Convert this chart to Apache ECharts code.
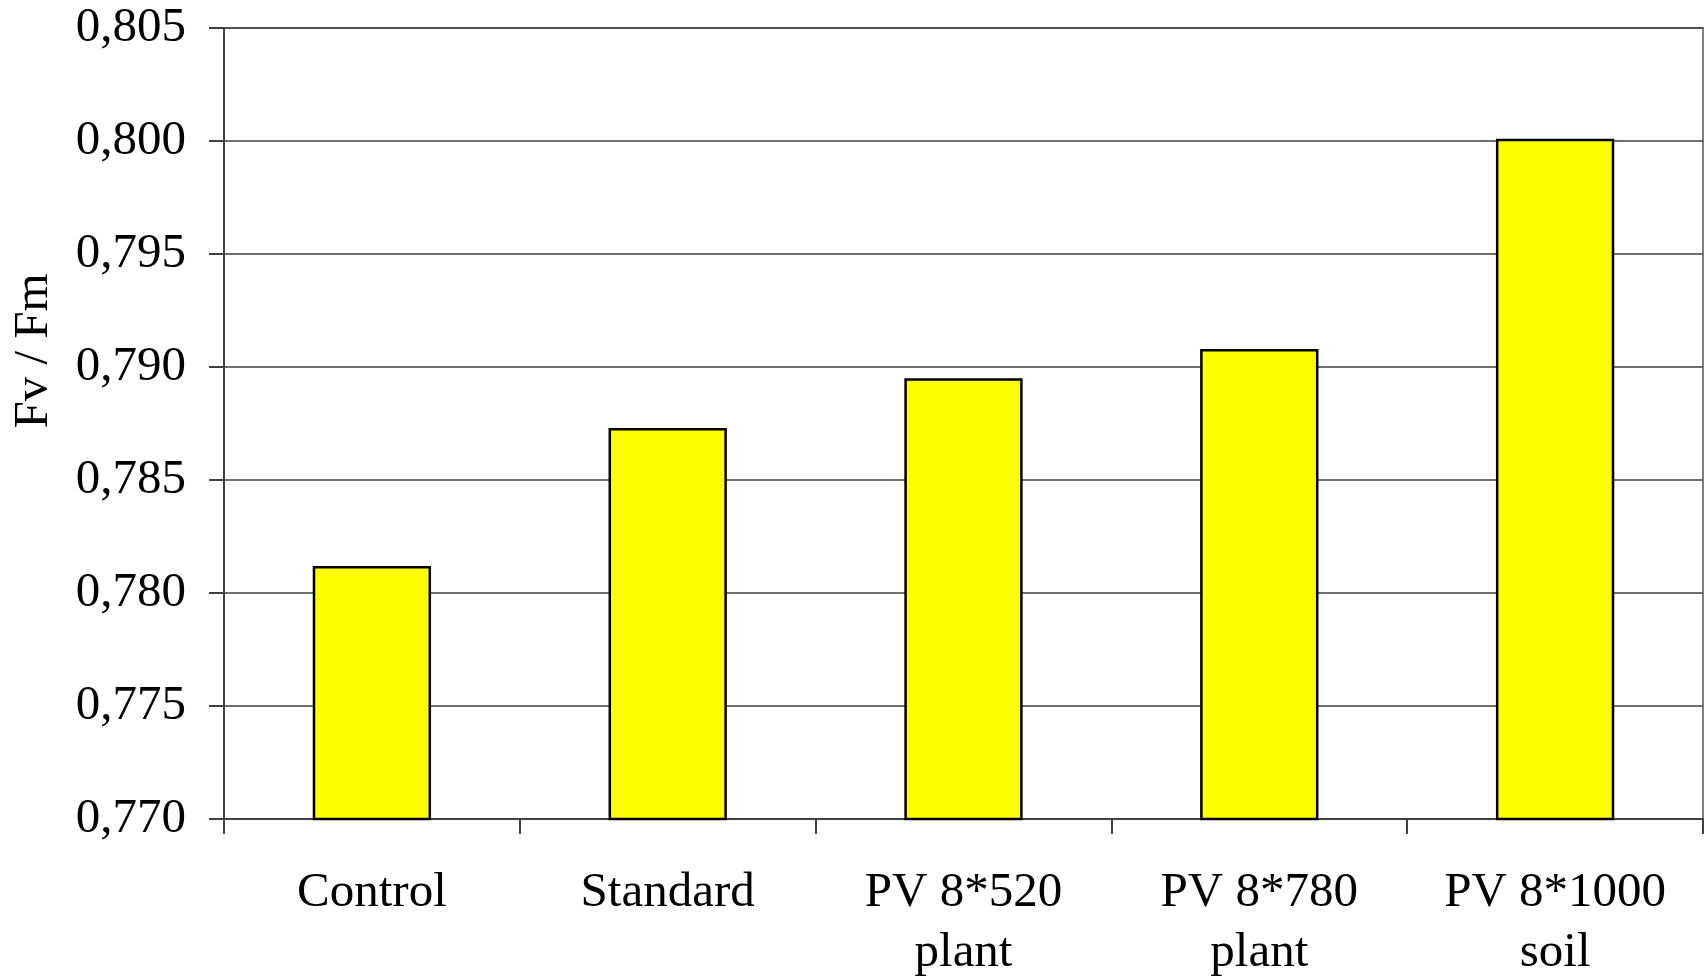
<!DOCTYPE html>
<html><head><meta charset="utf-8">
<script src="https://cdn.jsdelivr.net/npm/echarts@6/dist/echarts.min.js"></script>
<style>html,body{margin:0;padding:0;background:#fff}#c{width:1708px;height:978px}</style>
</head><body><div id="c"></div>
<script>
const categories = ['Control', 'Standard', 'PV 8*520\nplant', 'PV 8*780\nplant', 'PV 8*1000\nsoil'];
const values = [0.7812, 0.7873, 0.7895, 0.7908, 0.8001];
const yMin = 0.770, yMax = 0.805, yStep = 0.005;
const yAxisName = 'Fv / Fm';

const chart = echarts.init(document.getElementById('c'), null, {renderer: 'canvas'});
const font = '"Liberation Serif", "Times New Roman", serif';
chart.setOption({
  animation: false,
  backgroundColor: '#ffffff',
  grid: {left: 224, right: 5, top: 28, bottom: 159, outerBoundsMode: 'none', containLabel: false,
    show: true, borderColor: '#808080', borderWidth: 2, backgroundColor: 'transparent'},
  xAxis: {
    type: 'category', data: categories,
    axisLine: {lineStyle: {color: '#404040', width: 2}},
    axisTick: {show: true, length: 15, alignWithLabel: false, lineStyle: {color: '#404040', width: 2}},
    axisLabel: {color: '#000', fontFamily: font, fontSize: 49, lineHeight: 60, margin: 44, interval: 0}
  },
  yAxis: {
    type: 'value', min: yMin, max: yMax, interval: yStep,
    name: yAxisName, nameLocation: 'middle', nameGap: 165, nameRotate: 90,
    nameTextStyle: {color: '#000', fontFamily: font, fontSize: 49, padding: [0, 0, 0, 145]},
    axisLine: {show: true, lineStyle: {color: '#404040', width: 2}},
    axisTick: {show: true, length: 15, lineStyle: {color: '#404040', width: 2}},
    axisLabel: {color: '#000', fontFamily: font, fontSize: 49, margin: 38,
      formatter: v => v.toFixed(3).replace('.', ',')},
    splitLine: {show: true, lineStyle: {color: '#404040', width: 1.5}}
  },
  series: [{
    type: 'bar', data: values, barWidth: '40%',
    itemStyle: {color: '#ffff00', borderColor: '#000', borderWidth: 2.5}
  }]
});
</script></body></html>
